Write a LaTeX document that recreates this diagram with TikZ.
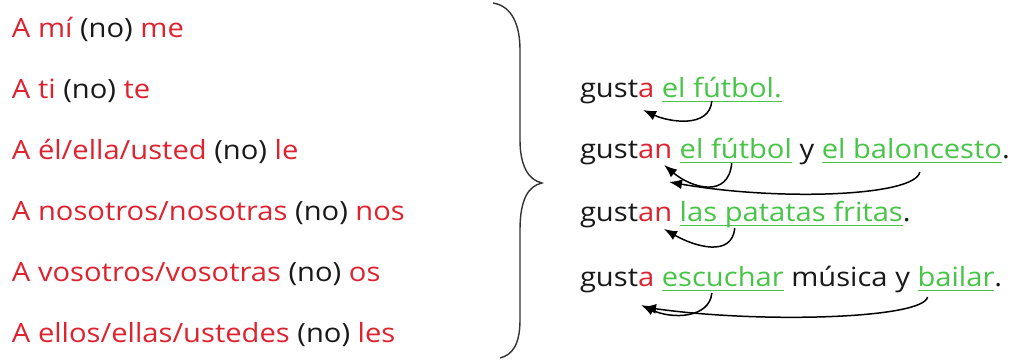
\documentclass[tikz,border=0pt]{standalone}
\usepackage{fontspec}
\setmainfont{Open Sans}[FakeStretch=1.1]
\usetikzlibrary{arrows.meta}
\definecolor{txtred}{RGB}{222,35,48}
\definecolor{txtgreen}{RGB}{72,196,72}
\definecolor{txtblack}{RGB}{25,25,25}
\newlength\spw
\begin{document}
\settowidth{\spw}{\fontsize{26.5}{30}\selectfont\ }
\begin{tikzpicture}[x=1pt,y=1pt,
  wd/.style={inner sep=0pt, outer sep=0pt, anchor=base west, font=\fontsize{26.5}{30}\selectfont, text=txtblack},
  rd/.style={wd, text=txtred},
  gr/.style={wd, text=txtgreen},
  ulin/.style={draw=txtgreen, line width=1.5pt},
  arr/.style={draw=black, line width=1.5pt, -{Latex[length=13pt,width=10pt]}},
  bracestyle/.style={draw=black!80, line width=1.4pt}]
\useasboundingbox[fill=white] (0,0) rectangle (1018,363);

% left column
\node[wd] (L1) at (12,325) {\textcolor{txtred}{A mí} (no) \textcolor{txtred}{me}};
\node[wd] (L2) at (12,264) {\textcolor{txtred}{A ti} (no) \textcolor{txtred}{te}};
\node[wd] (L3) at (12,203) {\textcolor{txtred}{A él/ella/usted} (no) \textcolor{txtred}{le}};
\node[wd] (L4) at (12,142) {\textcolor{txtred}{A nosotros/nosotras} (no) \textcolor{txtred}{nos}};
\node[wd] (L5) at (12,81) {\textcolor{txtred}{A vosotros/vosotras} (no) \textcolor{txtred}{os}};
\node[wd] (L6) at (12,20) {\textcolor{txtred}{A ellos/ellas/ustedes} (no) \textcolor{txtred}{les}};

% brace
\draw[bracestyle] (493,360) .. controls (512,357) and (520,338) .. (520,313) -- (520,223)
  .. controls (520,198) and (528,183) .. (542,180)
  .. controls (528,177) and (520,163) .. (520,133) -- (520,43)
  .. controls (520,18) and (512,8) .. (500,5);

% right row 1
\node[wd] (r1s) at (580,265) {gust};
\node[rd] (r1x) at (r1s.base east) {a};
\node[gr] (r1g) at ([xshift=\spw]r1x.base east) {el fútbol.};

% right row 2
\node[wd] (r2s) at (580,204) {gust};
\node[rd] (r2x) at (r2s.base east) {an};
\node[gr] (r2g1) at ([xshift=\spw]r2x.base east) {el fútbol};
\node[wd] (r2y) at ([xshift=\spw]r2g1.base east) {y};
\node[gr] (r2g2) at ([xshift=\spw]r2y.base east) {el baloncesto};
\node[wd] (r2p) at (r2g2.base east) {.};

% right row 3
\node[wd] (r3s) at (580,141) {gust};
\node[rd] (r3x) at (r3s.base east) {an};
\node[gr] (r3g) at ([xshift=\spw]r3x.base east) {las patatas fritas};
\node[wd] (r3p) at (r3g.base east) {.};

% right row 4
\node[wd] (r4s) at (580,76) {gust};
\node[rd] (r4x) at (r4s.base east) {a};
\node[gr] (r4g1) at ([xshift=\spw]r4x.base east) {escuchar};
\node[wd] (r4m) at ([xshift=\spw]r4g1.base east) {música y};
\node[gr] (r4g2) at ([xshift=\spw]r4m.base east) {bailar};
\node[wd] (r4p) at (r4g2.base east) {.};

% underlines
\foreach \n in {r1g,r2g1,r2g2,r3g,r4g1,r4g2}
  \draw[ulin] ([yshift=-3.5pt]\n.base west) -- ([yshift=-3.5pt]\n.base east);

% arrows
\draw[arr] ([xshift=50pt,yshift=-3pt]r1g.base west) to[out=-95,in=-25,out distance=28pt,in distance=28pt] ([xshift=5pt,yshift=-12pt]r1x.base west);
\draw[arr] ([xshift=52pt,yshift=-4pt]r2g1.base west) to[out=-95,in=-40,out distance=36pt,in distance=36pt] ([xshift=26pt,yshift=-6pt]r2x.base west);
\draw[arr] ([xshift=98pt,yshift=-13pt]r2g2.base west) to[out=-100,in=-10,out distance=25pt,in distance=110pt] ([xshift=31pt,yshift=-23pt]r2x.base west);
\draw[arr] ([xshift=55pt,yshift=-6pt]r3g.base west) to[out=-95,in=-30,out distance=30pt,in distance=35pt] ([xshift=26pt,yshift=-7pt]r3x.base west);
\draw[arr] ([xshift=50pt,yshift=-6pt]r4g1.base west) to[out=-95,in=-25,out distance=25pt,in distance=35pt] ([xshift=3pt,yshift=-18pt]r4x.base west);
\draw[arr] ([xshift=10pt,yshift=-10pt]r4g2.base west) to[out=-100,in=-8,out distance=22pt,in distance=120pt] ([xshift=5pt,yshift=-20pt]r4x.base west);
\end{tikzpicture}
\end{document}
